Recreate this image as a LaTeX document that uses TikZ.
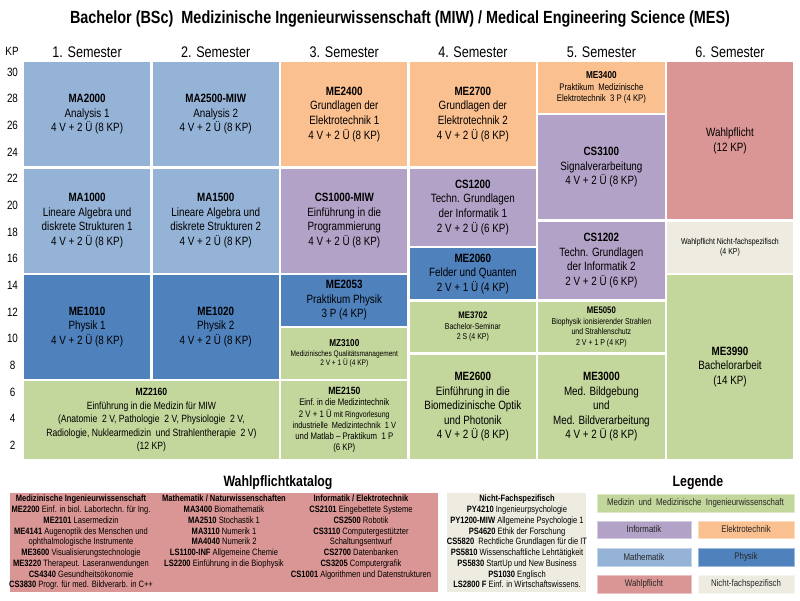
\documentclass[tikz,border=0pt]{standalone}
\usepackage{fontspec}
\setmainfont{Liberation Sans}[FakeStretch=0.82]
\newcommand\fz[2]{\fontsize{#1}{#2}\selectfont}
\definecolor{mathe}{HTML}{95B3D7}
\definecolor{phys}{HTML}{4F81BD}
\definecolor{info}{HTML}{B3A2C7}
\definecolor{elek}{HTML}{FAC090}
\definecolor{medz}{HTML}{C3D69B}
\definecolor{wahl}{HTML}{D99694}
\definecolor{nfs}{HTML}{EEECE1}
\tikzset{
  cell/.style={draw=white, line width=2.4pt, inner sep=0pt, align=center, text=black},
  fbig/.style={font=\fz{12}{14.6}},
  fmid/.style={font=\fz{10.5}{13.5}},
  fsma/.style={font=\fz{9.5}{11.2}},
  ftin/.style={font=\fz{8.5}{10.5}},
  fqm/.style={font=\fz{8}{9.5}},
  semlbl/.style={font=\fz{15.4}{18}, inner sep=0pt},
  axislbl/.style={font=\fz{12}{14}, inner sep=0pt},
  sectitle/.style={font=\fz{15}{18}\bfseries, inner sep=0pt},
  catcol/.style={font=\fz{9.2}{10.75}, align=center, inner sep=0pt, anchor=north},
  catbox/.style={inner sep=0pt, draw=none},
  legbox/.style={fill=#1, draw=#1!55!white, line width=1pt, inner sep=0pt, font=\fz{9.6}{11}, text=black!85},
}
% #1 style, #2 name, #3 x1, #4 k1, #5 x2, #6 k2, #7 colour, #8 text
\newcommand\cellbox[8]{\node[cell,#1,fill=#7,minimum width={(#5-#3)*1pt},minimum height={(#6-#4)*13.3pt}] (#2) at ({(#3+#5)/2},{61+(#4+#6)*6.65}) {#8};}
\begin{document}
\begin{tikzpicture}[x=1pt,y=-1pt]
\useasboundingbox[fill=white] (0,0) rectangle (800,600);

\node[font=\fz{17.6}{21}\bfseries, inner sep=0pt] (title) at (400,19) {Bachelor (BSc)\ \ Medizinische Ingenieurwissenschaft (MIW) / Medical Engineering Science (MES)};

\node[axislbl] (kp) at (12,51) {KP};
\foreach \k in {30,28,...,2}{
  \pgfmathsetmacro\yy{72+(30-\k)*13.33}
  \node[axislbl] (kp\k) at (12.5,\yy) {\k};
}

\node[semlbl] (s1) at (87.1,52) {1. Semester};
\node[semlbl] (s2) at (215.7,52) {2. Semester};
\node[semlbl] (s3) at (344.3,52) {3. Semester};
\node[semlbl] (s4) at (472.9,52) {4. Semester};
\node[semlbl] (s5) at (601.4,52) {5. Semester};
\node[semlbl] (s6) at (730.0,52) {6. Semester};

% column 1
\cellbox{fbig}{ma2000}{22.8}{0}{151.4}{8}{mathe}{\textbf{MA2000}\\Analysis 1\\4 V + 2 Ü (8 KP)}
\cellbox{fbig}{ma1000}{22.8}{8}{151.4}{16}{mathe}{\textbf{MA1000}\\Lineare Algebra und\\diskrete Strukturen 1\\4 V + 2 Ü (8 KP)}
\cellbox{fbig}{me1010}{22.8}{16}{151.4}{24}{phys}{\textbf{ME1010}\\Physik 1\\4 V + 2 Ü (8 KP)}
% column 2
\cellbox{fbig}{ma2500}{151.4}{0}{280}{8}{mathe}{\textbf{MA2500-MIW}\\Analysis 2\\4 V + 2 Ü (8 KP)}
\cellbox{fbig}{ma1500}{151.4}{8}{280}{16}{mathe}{\textbf{MA1500}\\Lineare Algebra und\\diskrete Strukturen 2\\4 V + 2 Ü (8 KP)}
\cellbox{fbig}{me1020}{151.4}{16}{280}{24}{phys}{\textbf{ME1020}\\Physik 2\\4 V + 2 Ü (8 KP)}
\cellbox{fmid}{mz2160}{22.8}{24}{280}{30}{medz}{\textbf{MZ2160}\\Einführung\ in\ die\ Medizin\ für\ MIW\\(Anatomie\ \ 2 V,\ Pathologie\ \ 2 V,\ Physiologie\ \ 2 V,\\Radiologie,\ Nuklearmedizin\ \ und Strahlentherapie\ \ 2 V)\\(12 KP)}
% column 3
\cellbox{fbig}{me2400}{280}{0}{408.6}{8}{elek}{\textbf{ME2400}\\Grundlagen der\\Elektrotechnik 1\\4 V + 2 Ü (8 KP)}
\cellbox{fbig}{cs1000}{280}{8}{408.6}{16}{info}{\textbf{CS1000-MIW}\\Einführung in die\\Programmierung\\4 V + 2 Ü (8 KP)}
\cellbox{fbig}{me2053}{280}{16}{408.6}{20}{phys}{\textbf{ME2053}\\Praktikum Physik\\3 P (4 KP)}
\cellbox{fqm}{mz3100}{280}{20}{408.6}{24}{medz}{{\fz{10}{11}\textbf{MZ3100}}\\Medizinisches Qualitätsmanagement\\2 V + 1 Ü (4 KP)}
\cellbox{fsma}{me2150}{280}{24}{408.6}{30}{medz}{{\fz{10.5}{12}\textbf{ME2150}}\\Einf.\ in die\ Medizintechnik\\2 V + 1 Ü {\fz{8.5}{10}mit Ringvorlesung}\\{\fz{9}{10}industrielle\ \ Medizintechnik\ \ 1 V}\\und Matlab -- Praktikum\ \ 1 P\\(6 KP)}
% column 4
\cellbox{fbig}{me2700}{408.6}{0}{537.1}{8}{elek}{\textbf{ME2700}\\Grundlagen der\\Elektrotechnik 2\\4 V + 2 Ü (8 KP)}
\cellbox{fbig}{cs1200}{408.6}{8}{537.1}{14}{info}{\textbf{CS1200}\\Techn. Grundlagen\\der Informatik 1\\2 V + 2 Ü (6 KP)}
\cellbox{fbig}{me2060}{408.6}{14}{537.1}{18}{phys}{\textbf{ME2060}\\Felder und Quanten\\2 V + 1 Ü (4 KP)}
\cellbox{ftin}{me3702}{408.6}{18}{537.1}{22}{medz}{{\fz{9.5}{11}\textbf{ME3702}}\\Bachelor-Seminar\\2 S (4 KP)}
\cellbox{fbig}{me2600}{408.6}{22}{537.1}{30}{medz}{\textbf{ME2600}\\Einführung in die\\Biomedizinische Optik\\und Photonik\\4 V + 2 Ü (8 KP)}
% column 5
\cellbox{fsma}{me3400}{537.1}{0}{665.7}{4}{elek}{{\fz{10}{12}\textbf{ME3400}}\\Praktikum\ \ Medizinische\\Elektrotechnik\ \ 3 P (4 KP)}
\cellbox{fbig}{cs3100}{537.1}{4}{665.7}{12}{info}{\textbf{CS3100}\\Signalverarbeitung\\4 V + 2 Ü (8 KP)}
\cellbox{fbig}{cs1202}{537.1}{12}{665.7}{18}{info}{\textbf{CS1202}\\Techn. Grundlagen\\der Informatik 2\\2 V + 2 Ü (6 KP)}
\cellbox{ftin}{me5050}{537.1}{18}{665.7}{22}{medz}{{\fz{9.5}{11}\textbf{ME5050}}\\Biophysik ionisierender Strahlen\\und Strahlenschutz\\2 V + 1 P (4 KP)}
\cellbox{fbig}{me3000}{537.1}{22}{665.7}{30}{medz}{\textbf{ME3000}\\Med. Bildgebung\\und\\Med. Bildverarbeitung\\4 V + 2 Ü (8 KP)}
% column 6
\cellbox{fbig}{wp}{665.7}{0}{794.3}{12}{wahl}{Wahlpflicht\\(12 KP)}
\cellbox{ftin}{wpnfs}{665.7}{12}{794.3}{16}{nfs}{Wahlpflicht Nicht-fachspezifisch\\(4 KP)}
\cellbox{fbig}{me3990}{665.7}{16}{794.3}{30}{medz}{\textbf{ME3990}\\Bachelorarbeit\\(14 KP)}

% Wahlpflichtkatalog
\node[sectitle] (wpktitle) at (278,483) {Wahlpflichtkatalog};
\node[catbox, fill=wahl, minimum width=428pt, minimum height=99pt] (wpk) at (224,542.5) {};
\node[catbox, fill=nfs, minimum width=139pt, minimum height=99pt] (nfsk) at (516.5,542.5) {};
\node[catcol] (catmed) at (81,495) {\textbf{Medizinische Ingenieurwissenschaft}\\
\textbf{ME2200} Einf. in biol. Labortechn. für Ing.\\
\textbf{ME2101} Lasermedizin\\
\textbf{ME4141} Augenoptik des Menschen und\\
ophthalmologische Instrumente\\
\textbf{ME3600} Visualisierungstechnologie\\
\textbf{ME3220} Therapeut. Laseranwendungen\\
\textbf{CS4340} Gesundheitsökonomie\\
\textbf{CS3830} Progr. für med. Bildverarb. in C++};
\node[catcol] (catmat) at (224,495) {\textbf{Mathematik / Naturwissenschaften}\\
\textbf{MA3400} Biomathematik\\
\textbf{MA2510} Stochastik 1\\
\textbf{MA3110} Numerik 1\\
\textbf{MA4040} Numerik 2\\
\textbf{LS1100-INF} Allgemeine Chemie\\
\textbf{LS2200} Einführung in die Biophysik};
\node[catcol] (catinf) at (361,495) {\textbf{Informatik / Elektrotechnik}\\
\textbf{CS2101} Eingebettete Systeme\\
\textbf{CS2500} Robotik\\
\textbf{CS3110} Computergestützter\\
Schaltungsentwurf\\
\textbf{CS2700} Datenbanken\\
\textbf{CS3205} Computergrafik\\
\textbf{CS1001} Algorithmen und Datenstrukturen};
\node[catcol] (catnfs) at (517,495) {\textbf{Nicht-Fachspezifisch}\\
\textbf{PY4210} Ingenieurpsychologie\\
\textbf{PY1200-MIW} Allgemeine Psychologie 1\\
\textbf{PS4620} Ethik der Forschung\\
\textbf{CS5820}\ \ Rechtliche Grundlagen für die IT\\
\textbf{PS5810} Wissenschaftliche Lehrtätigkeit\\
\textbf{PS5830} StartUp und New Business\\
\textbf{PS1030} Englisch\\
\textbf{LS2800 F} Einf. in Wirtschaftswissens.};

% Legende
\node[sectitle] (legtitle) at (698,483) {Legende};
\node[legbox=medz, minimum width=197pt, minimum height=18pt] (lmed) at (695.5,503) {Medizin\ \ und\ \ Medizinische\ \ Ingenieurwissenschaft};
\node[legbox=info, minimum width=94pt, minimum height=17pt] (linf) at (644,529.5) {Informatik};
\node[legbox=elek, minimum width=96pt, minimum height=17pt] (lelk) at (746,529.5) {Elektrotechnik};
\node[legbox=mathe, minimum width=94pt, minimum height=18pt] (lmat) at (644,557) {Mathematik};
\node[legbox=phys, minimum width=96pt, minimum height=18pt] (lphy) at (746,557) {Physik};
\node[legbox=wahl, minimum width=94pt, minimum height=18pt] (lwp) at (644,584) {Wahlpflicht};
\node[legbox=nfs, minimum width=96pt, minimum height=18pt] (lnfs) at (746,584) {Nicht-fachspezifisch};
\end{tikzpicture}
\end{document}
